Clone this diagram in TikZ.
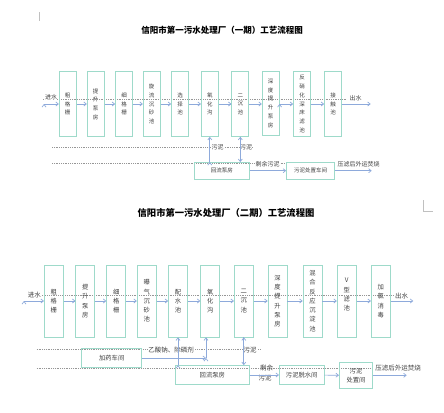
\documentclass[tikz,border=0pt]{standalone}
\usepackage{fontspec}
\newfontfamily\cjk{Noto Sans CJK SC}
\usetikzlibrary{arrows.meta}
\definecolor{boxline}{RGB}{158,218,202}
\definecolor{arrowblue}{RGB}{142,170,219}
\definecolor{gridgray}{RGB}{150,150,150}
\definecolor{txt}{RGB}{64,64,64}
\tikzset{
    proc/.style={draw=boxline, line width=0.7pt, minimum width=17pt,
        minimum height=65pt, inner sep=0pt, align=center, text=txt,
        font=\cjk\fontsize{5.5}{8.7}\selectfont},
    procb/.style={proc, minimum width=19pt, minimum height=72pt,
        font=\cjk\fontsize{6.3}{9.3}\selectfont},
    unit/.style={draw=boxline, line width=0.7pt, inner sep=0pt, align=center,
        text=txt, font=\cjk\fontsize{5.5}{7}\selectfont},
    unitb/.style={unit, font=\cjk\fontsize{6.3}{9}\selectfont},
    lbl/.style={fill=white, inner sep=0.4pt, text=txt,
        font=\cjk\fontsize{6}{7}\selectfont},
    lblb/.style={lbl, font=\cjk\fontsize{6.5}{8}\selectfont},
    flow/.style={draw=arrowblue, line width=0.7pt,
        -{Straight Barb[length=2.5pt, width=4pt]}},
    grid/.style={draw=gridgray, line width=0.5pt, dash pattern=on 0.6pt off 1.2pt},
    ttl/.style={text=black, inner sep=0pt}
}

\begin{document}
\begin{tikzpicture}[x=1pt, y=-1pt]
  \fill [white] (0,0) rectangle (444,412);
  \useasboundingbox (0,0) rectangle (444,412);
  \draw [gridgray!60, line width=0.4pt] (39,12.5) -- (39,21.5);
  \draw [gridgray!60, line width=0.4pt] (423.5,200) -- (423.5,211) -- (433,211);

  % phase one
  \node (title_1) [ttl, font=\cjk\bfseries\fontsize{8.5}{10}\selectfont] at (222,30)
      {信阳市第一污水处理厂（一期）工艺流程图};
  \draw [grid] (43,99) -- (346,99);
  \draw [grid] (52,147.5) -- (253,147.5);
  \draw [grid] (52,163.5) -- (287,163.5);

  \node (cgs_1) [proc] at (67.7,104) {粗\\格\\栅};
  \node (tsbf_1) [proc] at (95.7,104) {提\\升\\泵\\房};
  \node (xgs_1) [proc] at (124,104) {细\\格\\栅};
  \node (xlcs_1) [proc] at (151.7,104) {旋\\流\\沉\\砂\\池};
  \node (xzc_1) [proc] at (180,104) {选\\择\\池};
  \node (yhg_1) [proc] at (209.8,104) {氧\\化\\沟};
  \node (ecc_1) [proc] at (240.3,104) {二\\沉\\池};
  \node (sdts_1) [proc, minimum height=63.5pt] at (270.7,103.2) {深\\度\\提\\升\\泵\\房};
  \node (fxh_1) [proc] at (302,104) {反\\硝\\化\\深\\床\\滤\\池};
  \node (jcc_1) [proc] at (333,104) {接\\触\\池};
  \node (hlbf_1) [unit, minimum width=55pt, minimum height=16.6pt] at (221.8,170.7) {回流泵房};
  \node (wncz_1) [unit, minimum width=48pt, minimum height=17.3pt] at (310.5,170.7) {污泥处置车间};

  \coordinate (in_1) at (44,104);
  \coordinate (out_1) at (370.7,104);
  \coordinate (out_3) at (371.7,170.7);
  \node (jin_1) [lbl] at (51,97.5) {进水};
  \node (chu_1) [lbl] at (355.5,98) {出水};
  \node (wn_a) [lbl] at (217.5,147.5) {污泥};
  \node (wn_b) [lbl] at (246,147.5) {污泥};
  \node (sy_1) [lbl] at (267.5,164) {剩余污泥};
  \node (yl_1) [lbl] at (358.5,164) {压滤后外运焚烧};

  \draw [flow] (in_1) edge (cgs_1);
  \draw [flow] (cgs_1) edge (tsbf_1);
  \draw [flow] (tsbf_1) edge (xgs_1);
  \draw [flow] (xgs_1) edge (xlcs_1);
  \draw [flow] (xlcs_1) edge (xzc_1);
  \draw [flow] (xzc_1) edge (yhg_1);
  \draw [flow] (yhg_1) edge (ecc_1);
  \draw [flow] (ecc_1) edge (sdts_1.west |- ecc_1);
  \draw [flow] (sdts_1.east |- ecc_1) edge (fxh_1);
  \draw [flow] (fxh_1) edge (jcc_1);
  \draw [flow] (jcc_1) edge (out_1);
  \draw [flow] (yhg_1.south |- hlbf_1.north) edge (yhg_1.south);
  \draw [flow] (ecc_1.south) edge (ecc_1.south |- hlbf_1.north);
  \draw [flow] (hlbf_1) edge (wncz_1);
  \draw [flow] (wncz_1) edge (out_3);

  % phase two
  \node (title_2) [ttl, font=\cjk\bfseries\fontsize{9.3}{11}\selectfont] at (226,213.3)
      {信阳市第一污水处理厂（二期）工艺流程图};
  \draw [grid] (40,295.7) -- (393,295.7);
  \draw [grid] (36.7,349.3) -- (260,349.3);
  \draw [grid] (36.7,368) -- (373,368);

  \node (cgs_2) [procb] at (53.8,301) {粗\\格\\栅};
  \node (tsbf_2) [procb] at (85.3,301) {提\\升\\泵\\房};
  \node (xgs_2) [procb] at (116.2,301) {细\\格\\栅};
  \node (pqcs_2) [procb] at (146.7,301) {曝\\气\\沉\\砂\\池};
  \node (psc_2) [procb] at (178,301) {配\\水\\池};
  \node (yhg_2) [procb] at (210.2,301) {氧\\化\\沟};
  \node (ecc_2) [procb] at (243.8,301) {二\\沉\\池};
  \node (sdts_2) [procb] at (277.5,301) {深\\度\\提\\升\\泵\\房};
  \node (hhfy_2) [procb] at (312.5,301) {混\\合\\反\\应\\沉\\淀\\池};
  \node (vlc_2) [procb] at (346.7,301) {V\\型\\滤\\池\\[4pt]};
  \node (jlxd_2) [procb] at (380.8,301) {加\\氯\\消\\毒};
  \node (jycj_2) [unitb, minimum width=60pt, minimum height=19pt] at (111.7,358) {加药车间};
  \node (hlbf_2) [unitb, minimum width=74pt, minimum height=19pt] at (212.3,375) {回流泵房};
  \node (wnts_2) [unitb, minimum width=44.7pt, minimum height=19pt] at (301.7,375) {污泥脱水间};
  \node (wncz_2) [unitb, minimum width=33.4pt, minimum height=26pt] at (356,375.3) {污泥\\处置间};

  \coordinate (in_2) at (24,301);
  \coordinate (out_2) at (413.3,301);
  \coordinate (out_4) at (406.7,375.3);
  \coordinate (jy_c) at (206,358);
  \node (jin_2) [lblb] at (34.4,295.5) {进水};
  \node (chu_2) [lblb] at (401.5,296) {出水};
  \node (yj_2) [lblb] at (171,350) {乙酸钠、除磷剂};
  \node (wn_c) [lblb] at (250,350) {污泥};
  \node (sy_2) [lblb, fill=none] at (266.5,367.6) {剩余};
  \node (sy_3) [lblb, fill=none] at (265,378.4) {污泥};
  \node (yl_2) [lblb] at (398,368.3) {压滤后外运焚烧};

  \draw [flow] (in_2) edge (cgs_2);
  \draw [flow] (cgs_2) edge (tsbf_2);
  \draw [flow] (tsbf_2) edge (xgs_2);
  \draw [flow] (xgs_2) edge (pqcs_2);
  \draw [flow] (pqcs_2) edge (psc_2);
  \draw [flow] (psc_2) edge (yhg_2);
  \draw [flow] (yhg_2) edge (ecc_2);
  \draw [flow] (ecc_2) edge (sdts_2);
  \draw [flow] (sdts_2) edge (hhfy_2);
  \draw [flow] (hhfy_2) edge (vlc_2);
  \draw [flow] (vlc_2) edge (jlxd_2);
  \draw [flow] (jlxd_2) edge (out_2);
  \draw [flow] (jycj_2) edge (jy_c);
  \draw [flow] (jy_c) edge (jy_c |- yhg_2.south);
  \draw [flow] (psc_2.south |- hlbf_2.north) edge (psc_2.south);
  \draw [flow] (ecc_2.south) edge (ecc_2.south |- hlbf_2.north);
  \draw [flow] (hlbf_2) edge (wnts_2);
  \draw [flow] (wnts_2) edge (wncz_2);
  \draw [flow] (wncz_2) edge (out_4);
\end{tikzpicture}
\end{document}
